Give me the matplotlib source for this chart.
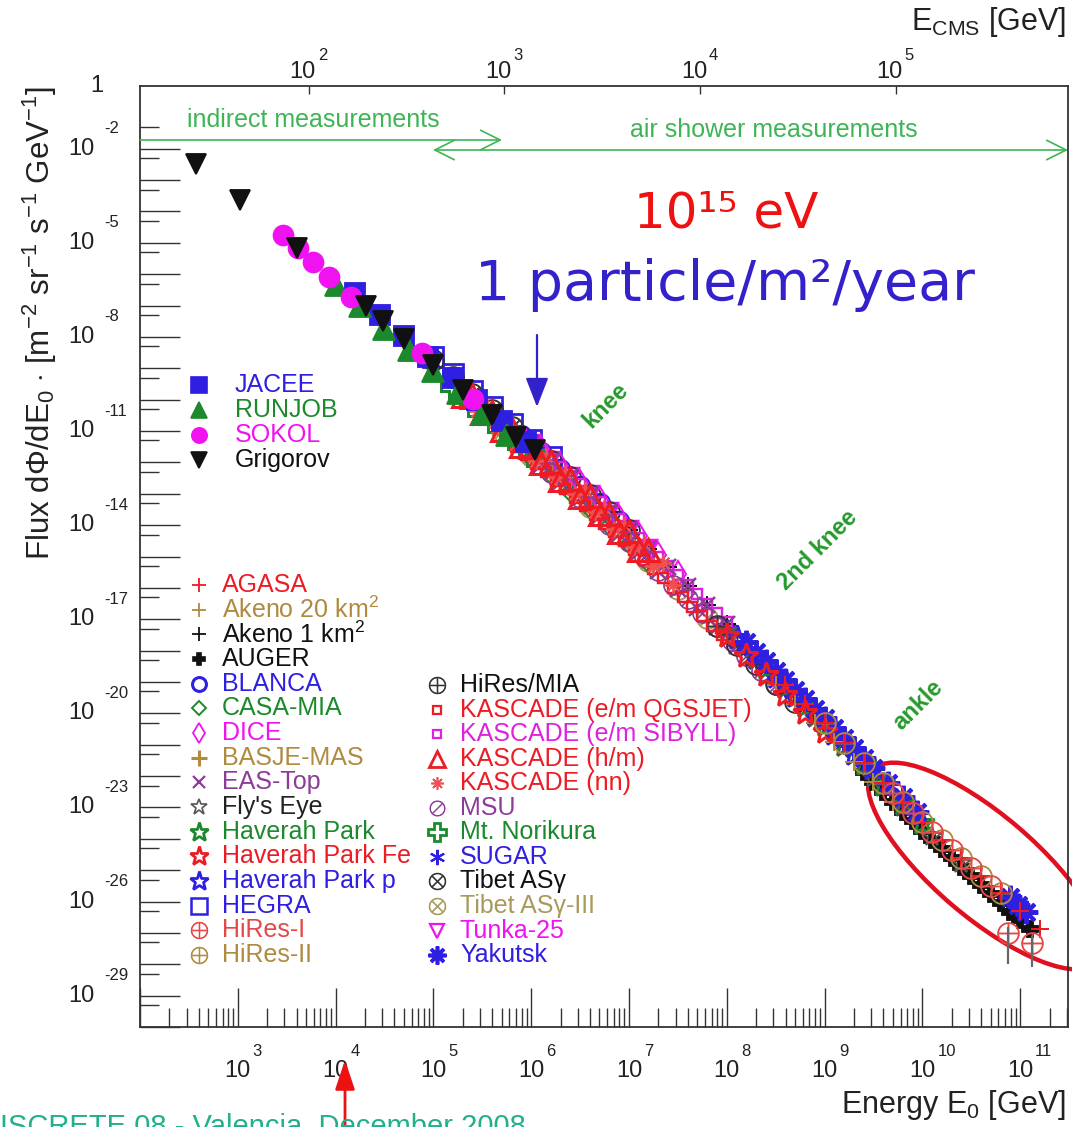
import numpy as np
import matplotlib
matplotlib.use('Agg')
import matplotlib.pyplot as plt
from matplotlib.patches import Ellipse
from matplotlib.transforms import ScaledTranslation, blended_transform_factory, offset_copy
from matplotlib.ticker import FixedLocator, NullLocator, NullFormatter

plt.rcParams['font.family'] = ['Liberation Sans', 'DejaVu Sans']
plt.rcParams['mathtext.fontset'] = 'custom'
plt.rcParams['mathtext.rm'] = 'Liberation Sans'
plt.rcParams['mathtext.it'] = 'Liberation Sans:italic'
plt.rcParams['mathtext.bf'] = 'Liberation Sans:bold'
plt.rcParams['axes.unicode_minus'] = False

# ---------------- data (log10 E [GeV], log10 flux) ----------------
JACEE_E = [4.2, 4.45, 4.7, 4.95, 5.2, 5.45, 5.7, 5.95]
JACEE_F = [-6.6, -7.3, -7.98, -8.65, -9.32, -10.0, -10.67, -11.35]
RUNJOB_E = [4.0, 4.25, 4.5, 4.75, 5.0, 5.25, 5.5, 5.75]
RUNJOB_F = [-6.35, -7.02, -7.75, -8.42, -9.1, -9.78, -10.46, -11.12]
SOKOL_E = [3.46, 3.62, 3.77, 3.93, 4.16, 4.88, 5.41]
SOKOL_F = [-4.75, -5.16, -5.62, -6.1, -6.72, -8.5, -9.98]
GRIGOROV_E = [2.57, 3.02, 3.61, 4.31, 4.49, 4.7, 5.0, 5.3, 5.6, 5.85, 6.04]
GRIGOROV_F = [-2.5, -3.62, -5.18, -7.0, -7.5, -8.08, -8.88, -9.7, -10.5, -11.2, -11.62]

AGASA_E = [8.6, 8.8, 9.0, 9.2, 9.4, 9.6, 9.8, 10.0, 10.2, 10.4, 10.6, 10.8, 11.0, 11.2]
AGASA_F = [-19.1, -19.7, -20.3, -20.94, -21.58, -22.21, -22.83, -23.45, -24.03, -24.61, -25.18, -25.74, -26.3, -26.86]
AKENO20_E = [8.5, 8.7, 8.9, 9.1, 9.3, 9.5, 9.7]
AKENO20_F = [-19.1, -19.7, -20.3, -20.92, -21.56, -22.2, -22.82]
AKENO1_E = [6.8, 7.0, 7.2, 7.4, 7.6, 7.8, 8.0, 8.2, 8.4]
AKENO1_F = [-13.59, -14.15, -14.75, -15.35, -15.95, -16.55, -17.15, -17.77, -18.39]
AUGER_E = [9.4, 9.5, 9.6, 9.7, 9.8, 9.9, 10.0, 10.1, 10.2, 10.3, 10.4, 10.5, 10.6, 10.7, 10.8, 10.9, 11.0, 11.1]
AUGER_F = [-21.88, -22.2, -22.51, -22.82, -23.13, -23.44, -23.75, -24.04, -24.33, -24.62, -24.91, -25.2, -25.48, -25.76, -26.04, -26.32, -26.6, -26.88]
BLANCA_E = [5.9, 6.1, 6.3, 6.5, 6.7, 6.9]
BLANCA_F = [-11.14, -11.67, -12.21, -12.75, -13.31, -13.87]
CASAMIA_E = [5.8, 6.0, 6.2, 6.4, 6.6, 6.8, 7.0, 7.2]
CASAMIA_F = [-11.32, -11.85, -12.39, -12.93, -13.48, -14.04, -14.6, -15.2]
DICE_E = [6.1, 6.3, 6.5, 6.7, 6.9, 7.1, 7.3, 7.5]
DICE_F = [-11.57, -12.11, -12.65, -13.21, -13.77, -14.35, -14.95, -15.55]
BASJE_E = [5.8, 6.0, 6.2, 6.4, 6.6, 6.8, 7.0]
BASJE_F = [-11.27, -11.8, -12.34, -12.88, -13.43, -13.99, -14.55]
EASTOP_E = [6.0, 6.1, 6.2, 6.3, 6.4, 6.5, 6.6, 6.7, 6.8, 6.9, 7.0, 7.1, 7.2, 7.3, 7.4, 7.5, 7.6, 7.7, 7.8, 7.9, 8.0, 8.1, 8.2]
EASTOP_F = [-11.4, -12.07, -11.94, -12.61, -12.48, -13.15, -13.03, -13.71, -13.59, -14.27, -14.15, -14.85, -14.75, -15.45, -15.35, -16.05, -15.95, -16.65, -16.55, -17.25, -17.15, -17.86, -17.77]
FLYSEYE_E = [8.0, 8.3, 8.6, 8.9, 9.2, 9.5, 9.8, 10.1, 10.4]
FLYSEYE_F = [-17.38, -18.3, -19.24, -20.14, -21.08, -22.05, -22.98, -23.9, -24.78]
HAVERAH_E = [8.4, 8.6, 8.8, 9.0, 9.2, 9.4, 9.6, 9.8, 10.0]
HAVERAH_F = [-18.55, -19.15, -19.77, -20.37, -21.0, -21.63, -22.27, -22.9, -23.5]
HAVERAHFE_E = [8.0, 8.2, 8.4, 8.6, 8.8, 9.0]
HAVERAHFE_F = [-17.55, -18.17, -18.79, -19.4, -20.0, -20.6]
HAVERAHP_E = [8.1, 8.3, 8.5, 8.7, 8.9, 9.1, 9.3]
HAVERAHP_F = [-17.6, -18.22, -18.84, -19.44, -20.04, -20.66, -21.3]
HEGRA_E = [5.0, 5.2, 5.4, 5.6, 5.8, 6.0, 6.2]
HEGRA_F = [-8.63, -9.17, -9.71, -10.24, -10.77, -11.3, -11.84]
HIRES1_E = [9.7, 9.9, 10.1, 10.3, 10.5, 10.7, 10.88, 11.12]
HIRES1_F = [-22.55, -23.18, -23.78, -24.35, -24.92, -25.5, -27.0, -27.32]
HIRES1_BAR_E = [10.88, 11.12]
HIRES1_BAR_F = [-27.0, -27.32]
HIRES1_BAR_LO = [-28.0, -28.1]
HIRES1_BAR_HI = [-26.8, -27.1]
HIRES2_E = [9.0, 9.2, 9.4, 9.6, 9.8, 10.0, 10.2, 10.4, 10.6, 10.8]
HIRES2_F = [-20.3, -20.94, -21.58, -22.21, -22.83, -23.45, -24.03, -24.61, -25.18, -25.74]
HIRESMIA_E = [7.9, 8.1, 8.3, 8.5, 8.7]
HIRESMIA_F = [-17.2, -17.81, -18.43, -19.05, -19.65]
KQGS_E = [5.85, 5.95, 6.05, 6.15, 6.25, 6.35, 6.45, 6.55, 6.65, 6.75, 6.85, 6.95, 7.05, 7.15, 7.25, 7.35, 7.45, 7.55, 7.65, 7.75, 7.85, 7.95]
KQGS_F = [-11.51, -11.77, -12.04, -12.3, -12.58, -12.85, -13.12, -13.39, -13.67, -13.95, -14.23, -14.51, -14.8, -15.1, -15.4, -15.7, -16.0, -16.3, -16.6, -16.9, -17.2, -17.5]
KSIB_E = [5.9, 6.0, 6.1, 6.2, 6.3, 6.4, 6.5, 6.6, 6.7, 6.8, 6.9, 7.0, 7.1, 7.2, 7.3, 7.4, 7.5, 7.6, 7.7, 7.8, 7.9, 8.0]
KSIB_F = [-11.09, -11.35, -11.62, -11.89, -12.16, -12.43, -12.7, -12.98, -13.26, -13.54, -13.82, -14.1, -14.4, -14.7, -15.0, -15.3, -15.6, -15.9, -16.2, -16.5, -16.8, -17.1]
KHM_E = [5.3, 5.4, 5.5, 5.6, 5.7, 5.8, 5.9, 6.0, 6.1, 6.2, 6.3, 6.4, 6.5, 6.6, 6.7, 6.8, 6.9, 7.0, 7.1, 7.2]
KHM_F = [-9.89, -9.86, -10.43, -10.39, -10.96, -10.92, -11.49, -11.45, -12.02, -11.99, -12.56, -12.53, -13.1, -13.08, -13.66, -13.64, -14.22, -14.2, -14.8, -14.8]
KNN_E = [5.45, 5.55, 5.65, 5.75, 5.85, 5.95, 6.05, 6.15, 6.25, 6.35, 6.45, 6.55, 6.65, 6.75, 6.85, 6.95, 7.05, 7.15, 7.25, 7.35, 7.45]
KNN_F = [-10.35, -10.21, -10.88, -10.74, -11.41, -11.27, -11.94, -11.8, -12.48, -12.35, -13.02, -12.89, -13.57, -13.45, -14.13, -14.01, -14.7, -14.6, -15.3, -15.2, -15.9]
MSU_E = [6.2, 6.5, 6.8, 7.0, 7.15, 7.3, 7.45, 7.6, 7.75, 7.9, 8.05, 8.2, 8.35, 8.5]
MSU_F = [-12.34, -13.15, -13.99, -14.55, -15.0, -15.45, -15.9, -16.35, -16.8, -17.25, -17.7, -18.17, -18.64, -19.1]
NORIKURA_E = [5.2, 5.4, 5.6, 5.8, 6.0]
NORIKURA_F = [-9.59, -10.13, -10.66, -11.19, -11.72]
SUGAR_E = [8.0, 8.3, 8.6, 8.9, 9.2, 9.5, 9.8]
SUGAR_F = [-17.3, -18.23, -19.15, -20.05, -20.99, -21.95, -22.88]
TIBET_E = [5.0, 5.2, 5.4, 5.6, 5.8, 6.0, 6.2, 6.4, 6.6, 6.8, 7.0]
TIBET_F = [-8.73, -9.27, -9.81, -10.34, -10.87, -11.4, -11.94, -12.48, -13.03, -13.59, -14.15]
TIBET3_E = [5.7, 6.0, 6.3, 6.6, 6.9, 7.2, 7.5, 7.8]
TIBET3_F = [-11.01, -11.8, -12.61, -13.43, -14.27, -15.15, -16.05, -16.95]
TUNKA_E = [6.0, 6.2, 6.4, 6.6, 6.8, 7.0, 7.2]
TUNKA_F = [-11.4, -11.94, -12.48, -13.03, -13.59, -14.15, -14.75]
YAKUTSK_E = [8.2, 8.3, 8.4, 8.5, 8.6, 8.7, 8.8, 8.9, 9.0, 9.1, 9.2, 9.3, 9.4, 9.5, 9.65, 9.8, 9.95, 10.9, 10.98, 11.06]
YAKUTSK_F = [-17.72, -18.03, -18.34, -18.65, -18.95, -19.25, -19.55, -19.85, -20.15, -20.47, -20.79, -21.11, -21.43, -21.75, -22.22, -22.68, -23.15, -25.87, -26.1, -26.33]

# axis ranges and tick labels
X_MIN_LOG, X_MAX_LOG = 2.0, 11.49
Y_MIN, Y_MAX = 1e-30, 1.0
BOTTOM_TICK_EXP = list(range(2, 12))
BOTTOM_LABEL_EXP = list(range(3, 12))
Y_TICK_EXP = list(range(-2, -31, -1))
Y_LABEL_EXP = [-2, -5, -8, -11, -14, -17, -20, -23, -26, -29]
TOP_LABEL_EXP = [2, 3, 4, 5]
PROTON_MASS = 0.938

# ---------------- colours / styles ----------------
RED = '#ec1b24'; BLUE = '#2f1fe0'; GREEN = '#1c8a2c'; MAG = '#f012f0'
TAN = '#b08a3e'; PURPLE = '#8c3c98'; OLIVE = '#a89a5a'; BLACK = '#111111'
HRED = '#e54848'

def st(marker, color, ms, fill=True, mew=1.2):
    d = dict(marker=marker, ms=ms, mew=mew, mec=color, ls='none')
    d['mfc'] = color if fill else 'none'
    return d

direct = [
    ('JACEE', JACEE_E, JACEE_F, st('s', BLUE, 11), BLUE),
    ('RUNJOB', RUNJOB_E, RUNJOB_F, st('^', GREEN, 12), GREEN),
    ('SOKOL', SOKOL_E, SOKOL_F, st('o', MAG, 11), MAG),
    ('Grigorov', GRIGOROV_E, GRIGOROV_F, st('v', BLACK, 11), BLACK),
]
leg2 = [
    ('AGASA', AGASA_E, AGASA_F, st('+', RED, 10, mew=1.3), RED),
    ('Akeno 20 km$^{2}$', AKENO20_E, AKENO20_F, st('+', TAN, 10, mew=1.3), TAN),
    ('Akeno 1 km$^{2}$', AKENO1_E, AKENO1_F, st('+', BLACK, 10, mew=1.3), BLACK),
    ('AUGER', AUGER_E, AUGER_F, st('P', BLACK, 9), BLACK),
    ('BLANCA', BLANCA_E, BLANCA_F, st('o', BLUE, 10, False, 2.2), BLUE),
    ('CASA-MIA', CASAMIA_E, CASAMIA_F, st('D', GREEN, 7, False, 1.4), GREEN),
    ('DICE', DICE_E, DICE_F, st('d', MAG, 10, False, 1.3), MAG),
    ('BASJE-MAS', BASJE_E, BASJE_F, st('+', TAN, 11, mew=2.2), TAN),
    ('EAS-Top', EASTOP_E, EASTOP_F, st('x', PURPLE, 9, mew=1.6), PURPLE),
    ("Fly's Eye", FLYSEYE_E, FLYSEYE_F, st('*', '#555555', 12, False, 1.2), '#222222'),
    ('Haverah Park', HAVERAH_E, HAVERAH_F, st('*', GREEN, 14, False, 2.0), GREEN),
    ('Haverah Park Fe', HAVERAHFE_E, HAVERAHFE_F, st('*', RED, 14, False, 2.0), RED),
    ('Haverah Park p', HAVERAHP_E, HAVERAHP_F, st('*', BLUE, 14, False, 2.0), BLUE),
    ('HEGRA', HEGRA_E, HEGRA_F, st('s', BLUE, 11, False, 1.8), BLUE),
    ('HiRes-I', HIRES1_E, HIRES1_F, st(r'$\oplus$', HRED, 12, True, 0.6), HRED),
    ('HiRes-II', HIRES2_E, HIRES2_F, st(r'$\oplus$', TAN, 12, True, 0.6), TAN),
]
leg3 = [
    ('HiRes/MIA', HIRESMIA_E, HIRESMIA_F, st(r'$\oplus$', '#333333', 12, True, 0.6), BLACK),
    ('KASCADE (e/m QGSJET)', KQGS_E, KQGS_F, st('s', RED, 6, False, 1.6), RED),
    ('KASCADE (e/m SIBYLL)', KSIB_E, KSIB_F, st('s', '#dd22dd', 6, False, 1.6), '#dd22dd'),
    ('KASCADE (h/m)', KHM_E, KHM_F, st('^', RED, 12, False, 2.0), RED),
    ('KASCADE (nn)', KNN_E, KNN_F, st((8, 2, 0), '#f05050', 9, True, 1.2), RED),
    ('MSU', MSU_E, MSU_F, st(r'$\oslash$', PURPLE, 11, True, 0.5), PURPLE),
    ('Mt. Norikura', NORIKURA_E, NORIKURA_F, st('P', GREEN, 13, False, 2.0), GREEN),
    ('SUGAR', SUGAR_E, SUGAR_F, st((6, 2, 0), BLUE, 11, True, 1.5), BLUE),
    ('Tibet AS\u03b3', TIBET_E, TIBET_F, st(r'$\otimes$', '#333333', 12, True, 0.6), BLACK),
    ('Tibet AS\u03b3-III', TIBET3_E, TIBET3_F, st(r'$\otimes$', OLIVE, 12, True, 0.6), OLIVE),
    ('Tunka-25', TUNKA_E, TUNKA_F, st('v', MAG, 10, False, 1.6), MAG),
    ('Yakutsk', YAKUTSK_E, YAKUTSK_F, st((8, 2, 0), BLUE, 13, True, 2.6), BLUE),
]
# order in which the data sets are drawn (later ones lie on top)
DRAW_ORDER = ['AUGER', 'SUGAR', 'Haverah Park p', 'HEGRA', 'BLANCA', 'Tunka-25', 'Tibet AS\u03b3-III',
              'Tibet AS\u03b3', 'CASA-MIA', 'DICE', 'BASJE-MAS', 'Mt. Norikura', 'Akeno 1 km$^{2}$',
              'KASCADE (e/m SIBYLL)', 'MSU', 'EAS-Top', 'Haverah Park', "Fly's Eye", 'HiRes/MIA',
              'Yakutsk', 'Akeno 20 km$^{2}$', 'Haverah Park Fe', 'HiRes-II', 'AGASA', 'HiRes-I',
              'KASCADE (e/m QGSJET)', 'KASCADE (nn)', 'KASCADE (h/m)']

# ---------------- figure ----------------
W, H = 1072, 1127
fig = plt.figure(figsize=(W / 100, H / 100), dpi=100)
AX_L, AX_R, AX_T, AX_B = 140, 1068, 86, 1027
ax = fig.add_axes([AX_L / W, 1 - AX_B / H, (AX_R - AX_L) / W, (AX_B - AX_T) / H])

def pa(px, py):
    return ((px - AX_L) / (AX_R - AX_L), (AX_B - py) / (AX_B - AX_T))

DATA_SCALE = 1.3
def plot_series(E, F, style):
    s = dict(style)
    s['ms'] = s['ms'] * DATA_SCALE
    s['mew'] = s['mew'] * 1.1
    ax.plot(10 ** np.asarray(E), 10 ** np.asarray(F), **s)

by_name = {e[0]: e for e in leg2 + leg3}
for nm in DRAW_ORDER:
    name, E, F, s, c = by_name[nm]
    plot_series(E, F, s)
bf = 10 ** np.asarray(HIRES1_BAR_F)
ax.errorbar(10 ** np.asarray(HIRES1_BAR_E), bf,
            yerr=[bf - 10 ** np.asarray(HIRES1_BAR_LO), 10 ** np.asarray(HIRES1_BAR_HI) - bf],
            fmt='none', ecolor='#666666', elinewidth=1.6, capsize=0)
for name, E, F, s, c in direct:
    plot_series(E, F, s)

ax.set_xscale('log'); ax.set_yscale('log')
ax.set_xlim(10 ** X_MIN_LOG, 10 ** X_MAX_LOG)
ax.set_ylim(Y_MIN, Y_MAX)

# ticks
ax.yaxis.set_major_locator(FixedLocator([10.0 ** k for k in Y_TICK_EXP]))
ax.yaxis.set_minor_locator(FixedLocator([5 * 10.0 ** k for k in Y_TICK_EXP]))
ax.yaxis.set_major_formatter(NullFormatter()); ax.yaxis.set_minor_formatter(NullFormatter())
ax.xaxis.set_major_locator(FixedLocator([10.0 ** k for k in BOTTOM_TICK_EXP]))
xminor = [m * 10.0 ** k for k in BOTTOM_TICK_EXP for m in range(2, 10) if m * 10.0 ** k < 10 ** X_MAX_LOG]
ax.xaxis.set_minor_locator(FixedLocator(xminor))
ax.xaxis.set_major_formatter(NullFormatter()); ax.xaxis.set_minor_formatter(NullFormatter())

TC = '#333333'; LC = '#222222'
ax.tick_params(axis='y', which='major', direction='in', length=29, width=1.0, right=False, colors=TC)
ax.tick_params(axis='y', which='minor', direction='in', length=14, width=1.0, right=False, colors=TC)
ax.tick_params(axis='x', which='major', direction='in', length=28, width=1.0, top=False, colors=TC)
ax.tick_params(axis='x', which='minor', direction='in', length=14, width=1.0, top=False, colors=TC)
for sp in ax.spines.values():
    sp.set_linewidth(1.3); sp.set_color(TC)

# ROOT-style tick labels: "10" plus a high, separate exponent
ytr = blended_transform_factory(ax.transAxes, ax.transData)
for k in Y_LABEL_EXP:
    ax.text(pa(95, 0)[0], 10.0 ** k, '10', transform=ytr, fontsize=17, ha='right', va='center', color=LC)
    ax.text(pa(104, 0)[0], 10.0 ** k, '%d' % k, fontsize=12, ha='left', va='center', color=LC,
            transform=offset_copy(ytr, fig=fig, x=0, y=20, units='dots'))
ax.text(*pa(97, 86), '1', transform=ax.transAxes, fontsize=17, ha='center', va='center', color=LC)

xtr = blended_transform_factory(ax.transData, ax.transAxes)
for k in BOTTOM_LABEL_EXP:
    ax.text(10.0 ** k, pa(0, 1071)[1], '10', transform=xtr, fontsize=17, ha='center', va='center', color=LC)
    ax.text(10.0 ** k, pa(0, 1051)[1], '%d' % k, fontsize=12, ha='left', va='center', color=LC,
            transform=offset_copy(xtr, fig=fig, x=15, y=0, units='dots'))

# top axis: E_CMS = sqrt(2 m_p E)
ax2 = ax.twiny()
ax2.set_xscale('log')
ax2.set_xlim(np.sqrt(2 * PROTON_MASS * 10 ** X_MIN_LOG), np.sqrt(2 * PROTON_MASS * 10 ** X_MAX_LOG))
ax2.xaxis.set_major_locator(FixedLocator([10.0 ** k for k in TOP_LABEL_EXP]))
ax2.xaxis.set_minor_locator(NullLocator())
ax2.xaxis.set_major_formatter(NullFormatter())
ax2.tick_params(axis='x', which='major', direction='in', length=6, width=1.0, colors=TC)
for sp in ax2.spines.values():
    sp.set_visible(False)
x2tr = blended_transform_factory(ax2.transData, ax2.transAxes)
for k in TOP_LABEL_EXP:
    ax2.text(10.0 ** k, pa(0, 72)[1], '10', fontsize=17, ha='center', va='center', color=LC,
             transform=offset_copy(x2tr, fig=fig, x=-6, y=0, units='dots'))
    ax2.text(10.0 ** k, pa(0, 56)[1], '%d' % k, fontsize=12, ha='left', va='center', color=LC,
             transform=offset_copy(x2tr, fig=fig, x=9, y=0, units='dots'))

# axis titles
ax.text(*pa(40, 86), r'Flux d$\Phi$/dE$_{0}$ $\cdot$ [m$^{-2}$ sr$^{-1}$ s$^{-1}$ GeV$^{-1}$]',
        transform=ax.transAxes, rotation=90, fontsize=22.5, ha='center', va='top', color=LC)
ax.text(*pa(1066, 1105), r'Energy E$_{0}$ [GeV]', transform=ax.transAxes, fontsize=22,
        ha='right', va='center', color=LC)
ax.text(*pa(1066, 22), r'E$_{\mathrm{CMS}}$ [GeV]', transform=ax.transAxes, fontsize=22,
        ha='right', va='center', color=LC)

# measurement regions
LG = '#3db555'
ax.text(*pa(187, 120), 'indirect measurements', transform=ax.transAxes, fontsize=18, color=LG,
        ha='left', va='center')
ax.text(*pa(630, 130), 'air shower measurements', transform=ax.transAxes, fontsize=18, color=LG,
        ha='left', va='center')
ax.annotate('', xy=pa(502, 140), xytext=pa(140, 140), xycoords='axes fraction', textcoords='axes fraction',
            arrowprops=dict(arrowstyle='->,head_length=0.7,head_width=0.35', color=LG, lw=1.2,
                            shrinkA=0, shrinkB=0, mutation_scale=20))
ax.annotate('', xy=pa(1068, 150), xytext=pa(433, 150), xycoords='axes fraction', textcoords='axes fraction',
            arrowprops=dict(arrowstyle='<->,head_length=0.7,head_width=0.35', color=LG, lw=1.2,
                            shrinkA=0, shrinkB=0, mutation_scale=20), annotation_clip=False)

# big annotations
ax.text(*pa(726, 213), '10\u00b9\u2075 eV', transform=ax.transAxes, fontsize=36, color='#ee1111',
        ha='center', va='center', family='DejaVu Sans')
ax.text(*pa(725, 285), '1 particle/m\u00b2/year', transform=ax.transAxes, fontsize=40, color='#3322cc',
        ha='center', va='center', family='DejaVu Sans')
ax.annotate('', xy=pa(537, 407), xytext=pa(537, 335), xycoords='axes fraction', textcoords='axes fraction',
            arrowprops=dict(arrowstyle='-|>,head_length=0.9,head_width=0.35', color='#3322cc', lw=1.6,
                            shrinkA=0, shrinkB=0, mutation_scale=20))
KG = '#259a2c'
ax.text(*pa(606, 405), 'knee', transform=ax.transAxes, fontsize=17, fontweight='bold', color=KG,
        rotation=45, ha='center', va='center')
ax.text(*pa(818, 550), '2nd knee', transform=ax.transAxes, fontsize=17, fontweight='bold', color=KG,
        rotation=45, ha='center', va='center')
ax.text(*pa(918, 705), 'ankle', transform=ax.transAxes, fontsize=17, fontweight='bold', color=KG,
        rotation=45, ha='center', va='center')

# ellipse around the highest-energy data
ell_tr = fig.dpi_scale_trans + ScaledTranslation(*pa(985, 866), ax.transAxes)
ax.add_patch(Ellipse((0, 0), width=2.95, height=1.02, angle=-40.5, fill=False, ec='#e01020', lw=3.2,
                     transform=ell_tr, clip_on=False))

# red arrow at bottom
ax.annotate('', xy=pa(345, 1060), xytext=pa(345, 1140), xycoords='axes fraction', textcoords='axes fraction',
            arrowprops=dict(arrowstyle='-|>,head_length=0.9,head_width=0.3', color='#ee1111', lw=2.0,
                            shrinkA=0, shrinkB=0, mutation_scale=20), annotation_clip=False)

# legends
def legend_rows(entries, mx, tx, y0, dy):
    for i, (name, E, F, s, c) in enumerate(entries):
        y = y0 + i * dy
        ax.plot([pa(mx, y)[0]], [pa(mx, y)[1]], transform=ax.transAxes, clip_on=False, **s)
        ax.text(*pa(tx, y), name, transform=ax.transAxes, fontsize=18, color=c, ha='left', va='center')

legend_rows(direct, 199, 235, 385, 25.0)
legend_rows(leg2, 199, 222, 585, 24.67)
legend_rows(leg3, 437, 460, 685, 24.55)

# footer
fig.text(-21 / W, 1 - 1135 / H, 'DISCRETE 08 - Valencia, December 2008', fontsize=21, color='#22b08a',
         ha='left', va='baseline')

fig.savefig('out.png', dpi=100)
